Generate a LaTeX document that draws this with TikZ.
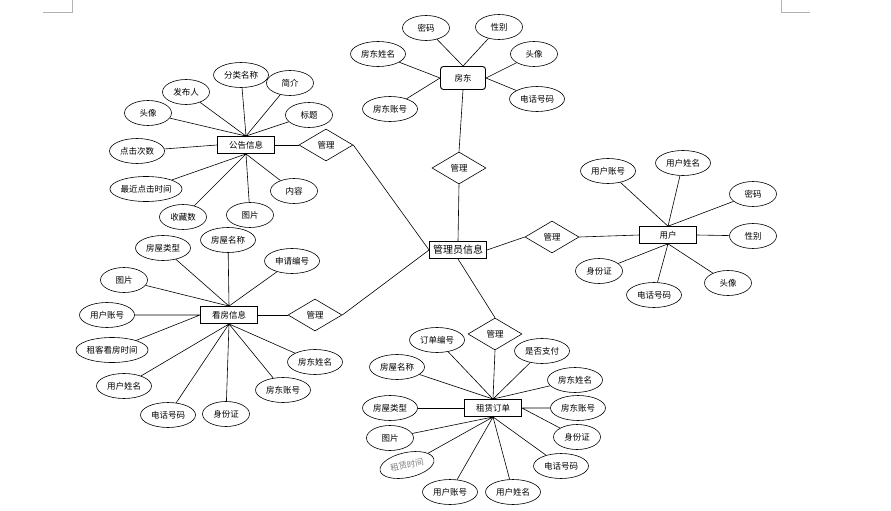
\documentclass[tikz,border=0pt]{standalone}
\usepackage{fontspec}
\newfontfamily\cjk{Noto Sans CJK SC}
\usetikzlibrary{calc,shapes.geometric}

\begin{document}
\begin{tikzpicture}[x=1pt,y=-1pt,
  every node/.style={font=\cjk\fontsize{8.5}{10}\selectfont},
  entity/.style={draw,line width=0.9pt,minimum width=57pt,minimum height=17pt,inner sep=0pt,fill=white},
  attr/.style={draw,line width=0.6pt,ellipse,minimum width=47pt,minimum height=25pt,inner sep=0pt},
  wide/.style={attr,minimum width=55pt},
  rel/.style={draw,line width=0.6pt,diamond,minimum width=54pt,minimum height=32pt,inner sep=0pt},
  link/.style={line width=0.6pt}]
  \useasboundingbox (0,0) rectangle (891,511);

  % page corner marks
  \draw[gray!60] (43,12) -- (72,12) -- (72,0);
  \draw[gray!60] (781,0) -- (781,12) -- (810,12);

  \node[entity,font=\cjk\fontsize{10}{12}\selectfont] (admin) at (458,250) {管理员信息};
  \node[entity,rounded corners=3pt,minimum width=45pt,minimum height=23pt] (fangdong) at (463,78) {房东};
  \node[entity] (gonggao) at (246,145) {公告信息};
  \node[entity] (kanfang) at (229,315) {看房信息};
  \node[entity,line width=0.6pt] (yonghu) at (668,235) {用户};
  \node[entity] (dingdan) at (493,408) {租赁订单};

  \node[rel] (glfd) at ($ (admin) + (1,-82) $) {管理};
  \node[rel] (glgg) at ($ (gonggao) + (80,0) $) {管理};
  \node[rel] (glkf) at ($ (kanfang) + (86,0) $) {管理};
  \node[rel] (glyh) at ($ (admin) + (94,-13) $) {管理};
  \node[rel] (gldd) at ($ (dingdan) + (2,-74) $) {管理};

  % fangdong
  \node[wide] (fd1) at ($ (fangdong) + (-85,-24) $) {房东姓名};
  \node[attr] (fd2) at ($ (fangdong) + (-37,-50) $) {密码};
  \node[attr] (fd3) at ($ (fangdong) + (36,-51) $) {性别};
  \node[attr] (fd4) at ($ (fangdong) + (71,-24) $) {头像};
  \node[wide] (fd5) at ($ (fangdong) + (74,21) $) {电话号码};
  \node[wide] (fd6) at ($ (fangdong) + (-73,31) $) {房东账号};

  % gonggao
  \node[attr] (gg1) at ($ (gonggao) + (-98,-32) $) {头像};
  \node[attr] (gg2) at ($ (gonggao) + (-60,-53) $) {发布人};
  \node[wide] (gg3) at ($ (gonggao) + (-5,-70) $) {分类名称};
  \node[attr] (gg4) at ($ (gonggao) + (44,-62) $) {简介};
  \node[attr] (gg5) at ($ (gonggao) + (63,-30) $) {标题};
  \node[wide] (gg6) at ($ (gonggao) + (-109,6) $) {点击次数};
  \node[attr] (gg7) at ($ (gonggao) + (-100,44) $) {最近点击时间};
  \node[attr] (gg8) at ($ (gonggao) + (-63,72) $) {收藏数};
  \node[attr] (gg9) at ($ (gonggao) + (4,70) $) {图片};
  \node[attr] (gg10) at ($ (gonggao) + (48,46) $) {内容};

  % kanfang
  \node[wide] (kf1) at ($ (kanfang) + (-66,-67) $) {房屋类型};
  \node[wide] (kf2) at ($ (kanfang) + (-1,-75) $) {房屋名称};
  \node[wide] (kf3) at ($ (kanfang) + (63,-54) $) {申请编号};
  \node[attr] (kf4) at ($ (kanfang) + (-105,-35) $) {图片};
  \node[wide] (kf5) at ($ (kanfang) + (-122,0) $) {用户账号};
  \node[attr] (kf6) at ($ (kanfang) + (-117,35) $) {租客看房时间};
  \node[wide] (kf7) at ($ (kanfang) + (-105,71) $) {用户姓名};
  \node[wide] (kf8) at ($ (kanfang) + (-61,100) $) {电话号码};
  \node[attr] (kf9) at ($ (kanfang) + (-3,99) $) {身份证};
  \node[wide] (kf10) at ($ (kanfang) + (54,75) $) {房东账号};
  \node[wide] (kf11) at ($ (kanfang) + (86,47) $) {房东姓名};

  % yonghu
  \node[wide] (yh1) at ($ (yonghu) + (-60,-64) $) {用户账号};
  \node[wide] (yh2) at ($ (yonghu) + (15,-72) $) {用户姓名};
  \node[attr] (yh3) at ($ (yonghu) + (85,-41) $) {密码};
  \node[attr] (yh4) at ($ (yonghu) + (85,1) $) {性别};
  \node[attr] (yh5) at ($ (yonghu) + (-69,36) $) {身份证};
  \node[wide] (yh6) at ($ (yonghu) + (-14,60) $) {电话号码};
  \node[attr] (yh7) at ($ (yonghu) + (60,48) $) {头像};

  % dingdan
  \node[wide] (dd1) at ($ (dingdan) + (-56,-68) $) {订单编号};
  \node[wide] (dd2) at ($ (dingdan) + (-96,-41) $) {房屋名称};
  \node[wide] (dd3) at ($ (dingdan) + (49,-57) $) {是否支付};
  \node[wide] (dd4) at ($ (dingdan) + (82,-28) $) {房东姓名};
  \node[wide] (dd5) at ($ (dingdan) + (-103,0) $) {房屋类型};
  \node[wide] (dd6) at ($ (dingdan) + (85,0) $) {房东账号};
  \node[attr] (dd7) at ($ (dingdan) + (84,29) $) {身份证};
  \node[attr] (dd8) at ($ (dingdan) + (-103,30) $) {图片};
  \node[wide,rotate=12,text=gray] (dd9) at ($ (dingdan) + (-86,57) $) {租赁时间};
  \node[wide] (dd10) at ($ (dingdan) + (-43,84) $) {用户账号};
  \node[wide] (dd11) at ($ (dingdan) + (20,84) $) {用户姓名};
  \node[wide] (dd12) at ($ (dingdan) + (68,58) $) {电话号码};

  \draw[link] (fangdong.south) -- (glfd.north);
  \draw[link] (glfd.south) -- (admin.north);
  \draw[link] (gonggao.east) -- (glgg.west);
  \draw[link] (glgg.east) -- (admin.west);
  \draw[link] (kanfang.east) -- (glkf.west);
  \draw[link] (glkf.east) -- (admin.west);
  \draw[link] (admin.east) -- (glyh.west);
  \draw[link] (glyh.east) -- (yonghu.west);
  \draw[link] (admin.south) -- (gldd.north);
  \draw[link] (gldd.south) -- (dingdan.north);

  \draw[link] (fd1) -- (fangdong.west) (fd6) -- (fangdong.west);
  \draw[link] (fd2) -- (fangdong.north) (fd3) -- (fangdong.north);
  \draw[link] (fd4) -- (fangdong.east) (fd5) -- (fangdong.east);

  \draw[link] (gg1) -- (gonggao.north) (gg2) -- (gonggao.north) (gg3) -- (gonggao.north);
  \draw[link] (gg4) -- (gonggao.north) (gg5) -- (gonggao.north);
  \draw[link] (gg6) -- (gonggao.west);
  \draw[link] (gg7) -- (gonggao.south) (gg8) -- (gonggao.south);
  \draw[link] (gg9) -- (gonggao.south) (gg10) -- (gonggao.south);

  \draw[link] (kf1) -- (kanfang.north) (kf2) -- (kanfang.north);
  \draw[link] (kf3) -- (kanfang.north) (kf4) -- (kanfang.north);
  \draw[link] (kf5) -- (kanfang.west) (kf6) -- (kanfang.west);
  \draw[link] (kf7) -- (kanfang.south) (kf8) -- (kanfang.south) (kf9) -- (kanfang.south);
  \draw[link] (kf10) -- (kanfang.south) (kf11) -- (kanfang.south);

  \draw[link] (yh1) -- (yonghu.north) (yh2) -- (yonghu.north) (yh3) -- (yonghu.north);
  \draw[link] (yh4) -- (yonghu.east);
  \draw[link] (yh5) -- (yonghu.south) (yh6) -- (yonghu.south) (yh7) -- (yonghu.south);

  \draw[link] (dd1) -- (dingdan.north) (dd2) -- (dingdan.north);
  \draw[link] (dd3) -- (dingdan.north) (dd4) -- (dingdan.north);
  \draw[link] (dd5) -- (dingdan.west);
  \draw[link] (dd6) -- (dingdan.east) (dd7) -- (dingdan.east);
  \draw[link] (dd8) -- (dingdan.south) (dd9) -- (dingdan.south) (dd10) -- (dingdan.south);
  \draw[link] (dd11) -- (dingdan.south) (dd12) -- (dingdan.south);
\end{tikzpicture}
\end{document}
